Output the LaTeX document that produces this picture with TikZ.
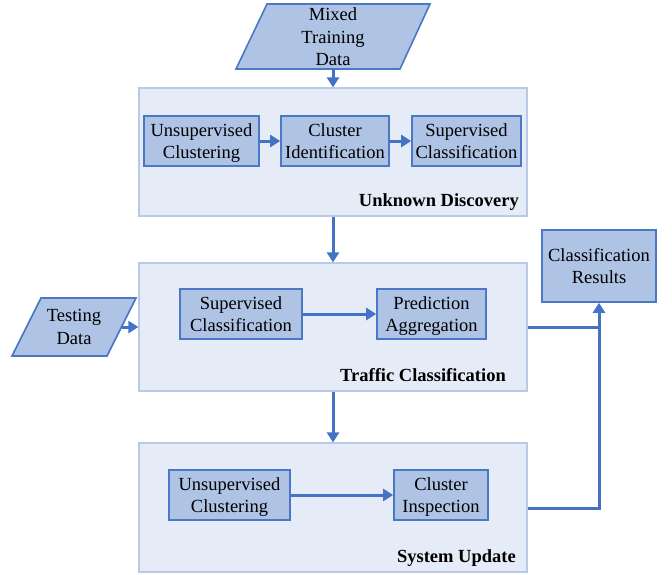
\documentclass[tikz,border=0pt]{standalone}
\usepackage{fontspec}
\setmainfont{Liberation Serif}
\usetikzlibrary{arrows.meta}
\definecolor{innerfill}{HTML}{AFC3E5}
\definecolor{innerdraw}{HTML}{4A78C4}
\definecolor{outerfill}{HTML}{E6ECF7}
\definecolor{outerdraw}{HTML}{B8CAE8}
\definecolor{arrowc}{HTML}{4472C4}
\tikzset{
  x=1pt, y=-1pt,
  txt/.style={font=\fontsize{18.5}{22.5}\selectfont, align=center},
  stage/.style={draw=outerdraw, fill=outerfill, line width=1.2pt, inner sep=0pt},
  proc/.style={txt, draw=innerdraw, fill=innerfill, line width=1.6pt, inner sep=0pt, minimum height=50pt, text height=40pt, text depth=4.5pt},
  para/.style={draw=innerdraw, fill=innerfill, line width=1.6pt},
  stagelabel/.style={font=\fontsize{18.5}{22.5}\selectfont\bfseries, inner sep=0pt},
  flow/.style={draw=arrowc, line width=3pt, -{Triangle[length=10pt,width=12pt]}},
  flowline/.style={draw=arrowc, line width=3pt}
}
\begin{document}
\begin{tikzpicture}
\useasboundingbox (0,0) rectangle (672,574);
% stages
\node[stage, minimum width=388pt, minimum height=128pt] (ud) at (333,152) {};
\node[stage, minimum width=388pt, minimum height=128pt] (tc) at (333,327) {};
\node[stage, minimum width=388pt, minimum height=129pt] (su) at (333,507.5) {};
\node[stagelabel, anchor=base east] (udl) at (519,206) {Unknown Discovery};
\node[stagelabel, anchor=base east] (tcl) at (506,381) {Traffic Classification};
\node[stagelabel, anchor=base east] (sul) at (516,562) {System Update};
% inputs
\path[para] (267,4) -- (430,4) -- (400,69) -- (236,69) -- cycle;
\node[txt, inner sep=0pt] (mtd) at (333,37) {Mixed\\Training\\Data};
\coordinate (mtdb) at (333,69);
\path[para] (41,298) -- (136,298) -- (107,356) -- (12,356) -- cycle;
\node[txt, inner sep=0pt] (td) at (74,327) {Testing\\Data};
\coordinate (tdr) at (121.5,327);
% process boxes
\node[proc, minimum width=115pt] (uc1) at (201.5,141) {Unsupervised\\Clustering};
\node[proc, minimum width=108pt] (ci) at (335,141) {Cluster\\Identification};
\node[proc, minimum width=109pt] (sc1) at (466.5,141) {Supervised\\Classification};
\node[proc, minimum width=122pt] (sc2) at (241,314) {Supervised\\Classification};
\node[proc, minimum width=109pt] (pa) at (431.5,314) {Prediction\\Aggregation};
\node[proc, minimum width=121pt] (uc2) at (229.5,495) {Unsupervised\\Clustering};
\node[proc, minimum width=94pt] (cins) at (441,495) {Cluster\\Inspection};
\node[proc, minimum width=114pt, minimum height=72pt] (cr) at (599,266) {Classification\\Results};
% connectors
\draw[flow] (mtdb) -- (ud.north);
\draw[flow] (ud.south) -- (tc.north);
\draw[flow] (tc.south) -- (su.north);
\draw[flow] (tdr) -- (tc.west);
\draw[flow] (uc1) -- (ci);
\draw[flow] (ci) -- (sc1);
\draw[flow] (sc2) -- (pa);
\draw[flow] (uc2) -- (cins);
\draw[flowline] (tc.east) -- (tc.east -| cr.south);
\draw[flow] (su.east |- 0,508) -- (cr.south |- 0,508) -- (cr.south);
\end{tikzpicture}
\end{document}
